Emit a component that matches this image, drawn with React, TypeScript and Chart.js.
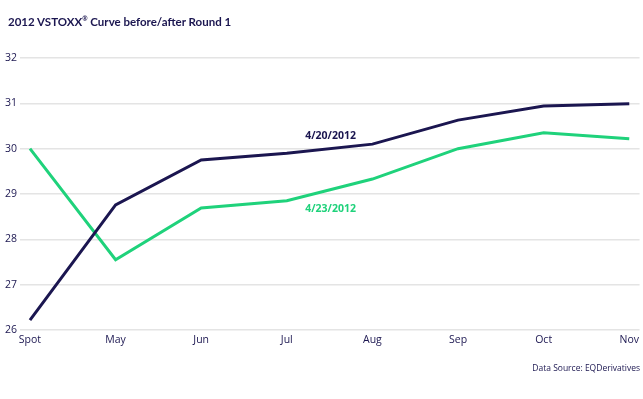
import React, { useEffect, useRef } from "react";
import { Chart, registerables } from "chart.js";

Chart.register(...registerables);

const categories = ["Spot", "May", "Jun", "Jul", "Aug", "Sep", "Oct", "Nov"];
const series0420 = [26.22, 28.76, 29.75, 29.9, 30.1, 30.63, 30.94, 30.99];
const series0423 = [30.0, 27.55, 28.69, 28.85, 29.33, 30.0, 30.35, 30.22];
const yTicks = [26, 27, 28, 29, 30, 31, 32];
const label0420 = "4/20/2012";
const label0423 = "4/23/2012";

const NAVY = "#1b1650";
const GREEN = "#1fd27b";
const FONT = "'Open Sans', 'Noto Sans', sans-serif";

const seriesLabels = {
  id: "seriesLabels",
  afterDatasetsDraw(chart: any) {
    const ctx = chart.ctx;
    const x = chart.scales.x;
    const y = chart.scales.y;
    ctx.save();
    ctx.font = `bold 10.5px ${FONT}`;
    ctx.textAlign = "center";
    ctx.textBaseline = "middle";
    const mid = (3 + 4) / 2;
    const px = x.getPixelForValue(mid) + 1;
    const a = (series0420[3] + series0420[4]) / 2;
    const b = (series0423[3] + series0423[4]) / 2;
    ctx.fillStyle = NAVY;
    ctx.fillText(label0420, px, y.getPixelForValue(a) - 13);
    ctx.fillStyle = GREEN;
    ctx.fillText(label0423, px, y.getPixelForValue(b) + 19);
    ctx.restore();
  },
};

export default function App() {
  const ref = useRef<HTMLCanvasElement>(null);
  useEffect(() => {
    const chart = new Chart(ref.current as HTMLCanvasElement, {
      type: "line",
      data: {
        datasets: [
          {
            label: label0420,
            data: series0420.map((v, i) => ({ x: i, y: v })),
            borderColor: NAVY,
            backgroundColor: NAVY,
            borderWidth: 3,
            pointRadius: 0,
            tension: 0,
          },
          {
            label: label0423,
            data: series0423.map((v, i) => ({ x: i, y: v })),
            borderColor: GREEN,
            backgroundColor: GREEN,
            borderWidth: 3,
            pointRadius: 0,
            tension: 0,
          },
        ],
      },
      options: {
        animation: false,
        responsive: false,
        maintainAspectRatio: false,
        layout: { padding: { top: 58, right: 0, bottom: 49, left: 0 } },
        plugins: {
          legend: { display: false },
          tooltip: { enabled: false },
          title: { display: false },
        },
        scales: {
          x: {
            type: "linear",
            min: -0.1165,
            max: 7.12,
            afterBuildTicks: (s: any) => {
              s.ticks = categories.map((_, i) => ({ value: i }));
            },
            afterFit: (s: any) => {
              s.height = 20;
            },
            grid: { display: false, drawTicks: false },
            border: { display: false },
            ticks: {
              autoSkip: false,
              maxRotation: 0,
              padding: 4,
              color: NAVY,
              font: { family: FONT, size: 10.5 },
              callback: (v: any) => categories[v] ?? "",
            },
          },
          y: {
            min: 26,
            max: 32,
            afterBuildTicks: (s: any) => {
              s.ticks = yTicks.map((v) => ({ value: v }));
            },
            afterFit: (s: any) => {
              s.width = 20;
            },
            grid: { color: "#e4e4e4", lineWidth: 1.5, drawTicks: false },
            border: { display: false },
            ticks: {
              padding: 3,
              color: NAVY,
              font: { family: FONT, size: 10.5 },
            },
          },
        },
      },
      plugins: [seriesLabels],
    } as any);
    return () => chart.destroy();
  }, []);

  return (
    <div style={{ position: "fixed", left: 0, top: 0, width: 643, height: 399, background: "#fff" }}>
      <canvas ref={ref} width={643} height={399} style={{ position: "absolute", left: 0, top: 0 }} />
      <div
        style={{
          position: "absolute",
          left: 8,
          top: 14,
          fontFamily: "Lato, 'Open Sans', sans-serif",
          fontWeight: 700,
          fontSize: 11.5,
          lineHeight: "16px",
          color: NAVY,
          whiteSpace: "nowrap",
        }}
      >
        2012 VSTOXX<sup style={{ fontSize: 6.5, lineHeight: 0 }}>®</sup> Curve before/after Round 1
      </div>
      <div
        style={{
          position: "absolute",
          right: 3,
          top: 362,
          fontFamily: FONT,
          fontSize: 8.5,
          color: NAVY,
          whiteSpace: "nowrap",
        }}
      >
        Data Source: EQDerivatives
      </div>
    </div>
  );
}
